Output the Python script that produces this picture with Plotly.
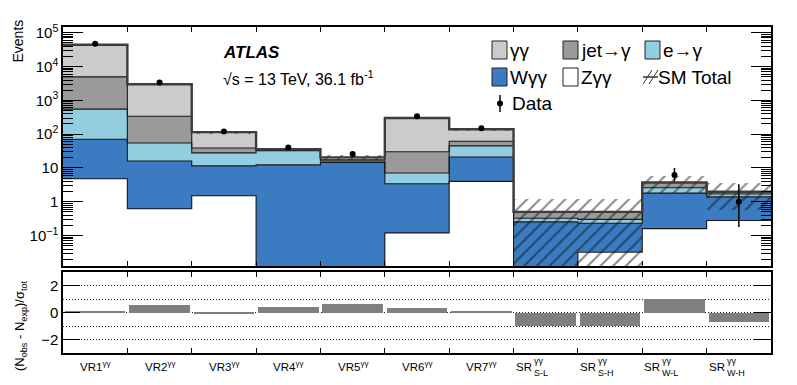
import numpy as np
import plotly.graph_objects as go

# signal / validation regions
regions = ["VR1", "VR2", "VR3", "VR4", "VR5", "VR6", "VR7", "S-L", "S-H", "W-L", "W-H"]

# background yields per region (stack order: bottom -> top)
z_gg = [4.8, 0.62, 1.5, 0.004, 0.005, 0.12, 4.0, 0.004, 0.032, 0.16, 0.28]
w_gg = [66, 15.4, 10.0, 12.3, 14.5, 3.3, 17.0, 0.25, 0.20, 1.64, 1.12]
e_fake = [480, 39, 16.5, 20.0, 1.5, 3.7, 24, 0.07, 0.07, 0.8, 0.30]
jet_fake = [4400, 285, 11, 1.5, 1.5, 23, 17, 0.18, 0.20, 1.1, 0.27]
gg = [39000, 2660, 76, 2.2, 3.0, 270, 78, 0, 0, 0, 0]

# SM total uncertainty band
sm_lo = [42000, 2800, 103, 32, 17, 275, 128, 0.001, 0.001, 1.8, 0.58]
sm_hi = [46000, 3200, 127, 40, 24, 325, 152, 1.2, 1.2, 5.8, 3.6]

# observed data
data = [47000, 3400, 120, 40, 26, 340, 150, None, None, 6.2, 1.0]
data_up = [217, 58, 11, 6.3, 5.1, 18.4, 12.2, 0, 0, 3.8, 2.3]
data_dn = [217, 58, 11, 6.3, 5.1, 18.4, 12.2, 0, 0, 2.2, 0.82]

# significance (N_obs - N_exp)/sigma_tot
signif = [0.05, 0.58, -0.05, 0.38, 0.6, 0.36, 0.12, -1.0, -1.0, 1.0, -0.68]

COLORS = {"gg": "#cbcbcb", "jet": "#9a9a9a", "e": "#93cde0", "w": "#3a7bc1", "z": "#ffffff"}
FONT = "Liberation Sans"

# the page body keeps an 8px margin, so the figure is drawn 8px in from the corner
OFF = 8
W, H = 797 - 2 * OFF, 385 - 2 * OFF
X0, X1, Y0, Y1 = 63, 771, 27, 353   # plot frame in screen pixels
L, R, T, B = X0 - OFF, (OFF + W) - X1, Y0 - OFF, (OFF + H) - Y1


def px(xp):
    return (xp - X0) / (X1 - X0)


def py(yp):
    return (Y1 - yp) / (Y1 - Y0)


n = len(regions)
xc = np.arange(n) + 0.5
edges = np.arange(n + 1)

fig = go.Figure()

stack = [(z_gg, COLORS["z"]), (w_gg, COLORS["w"]), (e_fake, COLORS["e"]),
         (jet_fake, COLORS["jet"]), (gg, COLORS["gg"])]
base = np.full(n, 1e-4)
tops = []
for vals, col in stack:
    vals = np.array(vals, dtype=float)
    fig.add_trace(go.Bar(x=xc, y=vals, base=base, width=1.0,
                         marker=dict(color=col, line_width=0),
                         showlegend=False, hoverinfo="skip"))
    base = base + vals
    tops.append(base.copy())

# step outlines for each level of the stack
for i, top in enumerate(tops):
    last = i == len(tops) - 1
    fig.add_trace(go.Scatter(x=edges, y=np.append(top, top[-1]), mode="lines",
                             line=dict(shape="hv", color="#3c3c3c" if last else "#1a1a1a",
                                       width=2.4 if last else 1.1),
                             showlegend=False, hoverinfo="skip"))

# hatched uncertainty band
lo = np.array(sm_lo)
hi = np.array(sm_hi)
fig.add_trace(go.Bar(x=xc, y=hi - lo, base=lo, width=1.0,
                     marker=dict(color="rgba(0,0,0,0)", line_width=0,
                                 pattern=dict(shape="/", fgcolor="#111111", bgcolor="rgba(0,0,0,0)",
                                              size=9, solidity=0.22, fillmode="overlay")),
                     showlegend=False, hoverinfo="skip"))

# data
fig.add_trace(go.Scatter(x=xc, y=data, mode="markers",
                         marker=dict(color="black", size=6),
                         error_y=dict(type="data", symmetric=False, array=data_up, arrayminus=data_dn,
                                      color="black", thickness=1.5, width=0),
                         showlegend=False, hoverinfo="skip"))

# significance panel
fig.add_trace(go.Bar(x=xc, y=signif, width=0.94, marker=dict(color="#7f7f7f", line_width=0),
                     xaxis="x2", yaxis="y2", showlegend=False, hoverinfo="skip"))

dec_vals = [0.1, 1, 10, 100, 1e3, 1e4, 1e5]
dec_text = ["10<sup>\u22121</sup>", "1", "10", "10<sup>2</sup>", "10<sup>3</sup>",
            "10<sup>4</sup>", "10<sup>5</sup>"]
minor_vals = [m * 10.0 ** e for e in range(-2, 6) for m in range(2, 10)]

axis_common = dict(showline=True, linecolor="black", linewidth=1.5, mirror="allticks",
                   ticks="inside", tickcolor="black", zeroline=False, showgrid=False)

fig.update_layout(
    width=W, height=H,
    margin=dict(l=L, r=R, t=T, b=B),
    paper_bgcolor="white", plot_bgcolor="white",
    barmode="overlay", bargap=0,
    font=dict(family=FONT, color="black"),
    xaxis=dict(range=[0, n], domain=[0, 1], anchor="y", tickvals=edges[1:-1], ticklen=5,
               showticklabels=False, **axis_common),
    yaxis=dict(type="log", range=[-1.9, 5.17], domain=[py(266), 1], anchor="x",
               tickvals=dec_vals, ticktext=dec_text, ticklen=20, tickfont=dict(size=15),
               minor=dict(tickvals=minor_vals, ticklen=10, ticks="inside", tickcolor="black"),
               **axis_common),
    xaxis2=dict(range=[0, n], domain=[0, 1], anchor="y2", matches="x", tickvals=edges[1:-1],
                ticklen=5, showticklabels=False, **axis_common),
    yaxis2=dict(range=[-3, 3], domain=[0, py(272)], anchor="x2", tickvals=[-2, 0, 2],
                ticktext=["\u22122", "0", "2"], ticklen=17, tickfont=dict(size=15),
                showline=True, linecolor="black", linewidth=1.5, mirror="allticks",
                ticks="inside", tickcolor="black", zeroline=False,
                showgrid=True, gridcolor="#222222", griddash="1px,2px", gridwidth=1,
                minor=dict(tickvals=[-1, 1], showgrid=True, gridcolor="#222222",
                           griddash="1px,2px", ticks="")),
)

ann = []
# axis titles
ann.append(dict(text="Events", x=px(18), y=py(18), xref="paper", yref="paper",
                xanchor="center", yanchor="top", textangle=-90, showarrow=False,
                font=dict(size=14)))
ann.append(dict(text="(N<sub>obs</sub> - N<sub>exp</sub>)/\u03c3<sub>tot</sub>", x=px(20), y=py(326),
                xref="paper", yref="paper", xanchor="center", yanchor="middle", textangle=-90,
                showarrow=False, font=dict(size=13)))

# x labels
for i, r in enumerate(regions):
    if r.startswith("VR"):
        ann.append(dict(text=r + "<sup>\u03b3\u03b3</sup>", x=xc[i], y=py(366), xref="x2", yref="paper",
                        xanchor="center", yanchor="middle", showarrow=False, font=dict(size=11.5)))
    else:
        ann.append(dict(text="SR", x=xc[i], xshift=-12, y=py(367), xref="x2", yref="paper",
                        xanchor="right", yanchor="middle", showarrow=False, font=dict(size=11.5)))
        ann.append(dict(text="\u03b3\u03b3", x=xc[i], xshift=-14, y=py(361), xref="x2", yref="paper",
                        xanchor="left", yanchor="middle", showarrow=False, font=dict(size=9)))
        ann.append(dict(text=r, x=xc[i], xshift=-14, y=py(373), xref="x2", yref="paper",
                        xanchor="left", yanchor="middle", showarrow=False, font=dict(size=9)))

# ATLAS label
ann.append(dict(text="<b><i>ATLAS</i></b>", x=px(221), y=py(52), xref="paper", yref="paper",
                xanchor="left", yanchor="middle", showarrow=False, font=dict(size=17)))
ann.append(dict(text="\u221as = 13 TeV, 36.1 fb<sup>-1</sup>", x=px(221), y=py(78), xref="paper",
                yref="paper", xanchor="left", yanchor="middle", showarrow=False, font=dict(size=16)))

shapes = []
legend_boxes = [
    (492, 50, COLORS["gg"], "\u03b3\u03b3"),
    (563, 50, COLORS["jet"], "jet\u2192\u03b3"),
    (645, 50, COLORS["e"], "e\u2192\u03b3"),
    (492, 77, COLORS["w"], "W\u03b3\u03b3"),
    (563, 77, COLORS["z"], "Z\u03b3\u03b3"),
]
for x0, yc, col, label in legend_boxes:
    shapes.append(dict(type="rect", xref="paper", yref="paper", x0=px(x0), x1=px(x0 + 15),
                       y0=py(yc - 9), y1=py(yc + 9), fillcolor=col,
                       line=dict(color="#222222", width=1)))
    ann.append(dict(text=label, x=px(x0 + 16), y=py(yc), xref="paper", yref="paper",
                    xanchor="left", yanchor="middle", showarrow=False, font=dict(size=19)))

# SM Total symbol: hatch strokes with a line
for dx in (0, 6):
    shapes.append(dict(type="line", xref="paper", yref="paper", x0=px(643 + dx), y0=py(84),
                       x1=px(652 + dx), y1=py(70), line=dict(color="#333333", width=1)))
shapes.append(dict(type="line", xref="paper", yref="paper", x0=px(643), y0=py(77),
                   x1=px(658), y1=py(77), line=dict(color="#333333", width=1.5)))
ann.append(dict(text="SM Total", x=px(656), y=py(77), xref="paper", yref="paper",
                xanchor="left", yanchor="middle", showarrow=False, font=dict(size=19)))

# Data symbol
shapes.append(dict(type="line", xref="paper", yref="paper", x0=px(500), y0=py(95),
                   x1=px(500), y1=py(112), line=dict(color="black", width=1.5)))
shapes.append(dict(type="circle", xref="paper", yref="paper", x0=px(497), y0=py(100.5),
                   x1=px(503), y1=py(106.5), fillcolor="black", line=dict(color="black", width=0)))
ann.append(dict(text="Data", x=px(510), y=py(104), xref="paper", yref="paper",
                xanchor="left", yanchor="middle", showarrow=False, font=dict(size=19)))

fig.update_layout(annotations=ann, shapes=shapes)

fig.write_html("out.html")
